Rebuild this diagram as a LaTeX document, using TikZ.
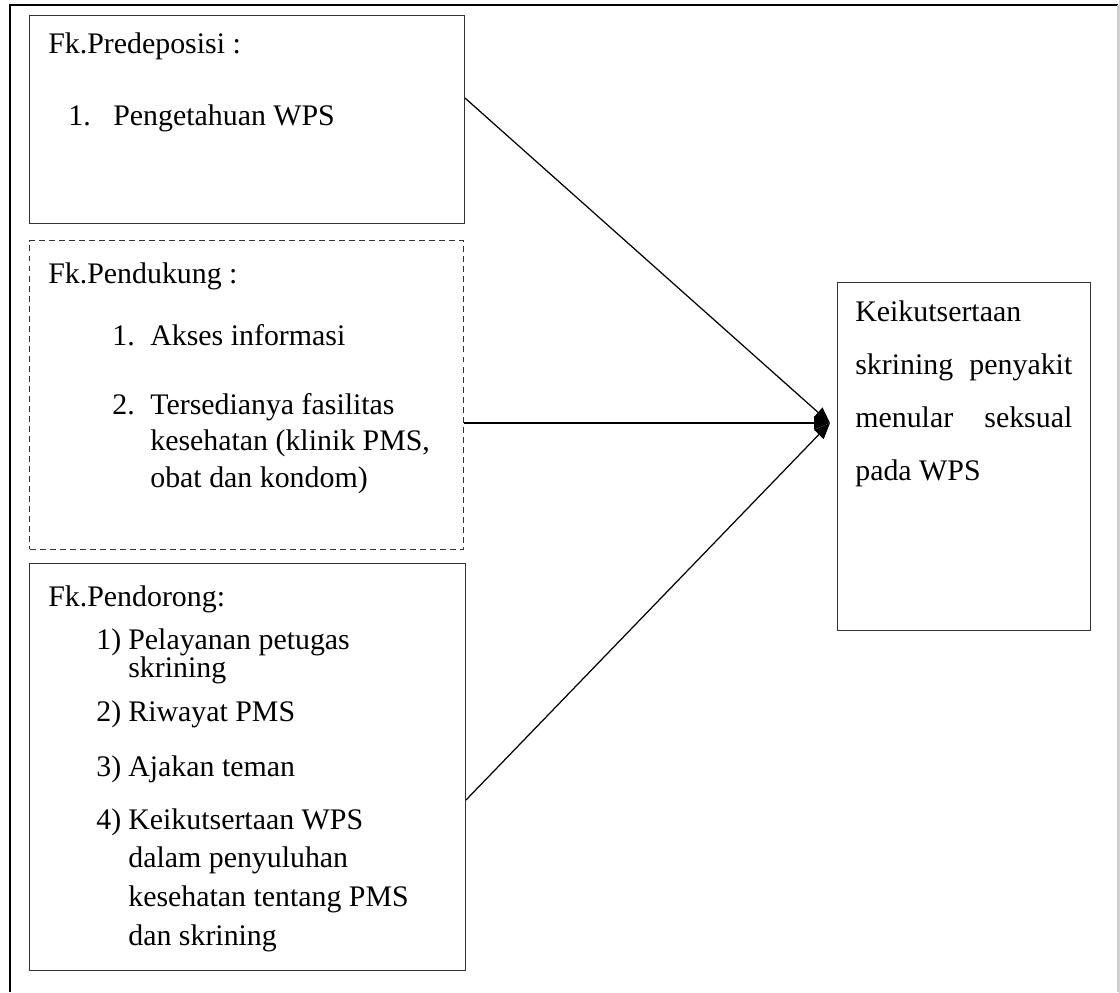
\documentclass[tikz,border=0pt]{standalone}
\usepackage{fontspec}
\setmainfont{Liberation Serif}
\usetikzlibrary{positioning, arrows.meta, calc}

\tikzset{
  box/.style={draw=black!80, line width=0.6pt, anchor=north west, inner sep=0pt},
  dbox/.style={box, dash pattern=on 3.4pt off 2.3pt},
  txt/.style={anchor=base west, inner sep=0pt, font=\fontsize{17pt}{20pt}\selectfont},
  link/.style={-{Triangle[length=3.2mm,width=2.6mm]}, line width=0.7pt},
}

\begin{document}
\begin{tikzpicture}[x=0.02cm, y=-0.02cm]
\useasboundingbox (0,0) rectangle (1119,992);
% outer frame
\draw[line width=1.2pt] (10,992) -- (10,5) -- (1118,5);
\draw[black!20, line width=0.6pt] (1118,5) -- (1118,992);

% factor boxes
\node[box, minimum width=8.70cm, minimum height=4.16cm] (pred) at (29,15) {};
\node[dbox, minimum width=8.68cm, minimum height=6.18cm] (pend) at (29,240) {};
\node[box, minimum width=8.72cm, minimum height=8.14cm] (dor) at (29,563) {};
\node[box, minimum width=5.06cm, minimum height=6.96cm] (ikut) at (837,282) {};

% predeposisi
\node[txt] (t1) at (48,53) {Fk.Predeposisi :};
\node[txt] (n11) at (68,125) {1.};
\node[txt] (t11) at (113,125) {Pengetahuan WPS};

% pendukung
\node[txt] (t2) at (48,283) {Fk.Pendukung :};
\node[txt] (n21) at (112,345) {1.};
\node[txt] (t21) at (150,345) {Akses informasi};
\node[txt] (n22) at (112,414) {2.};
\node[txt] (t22) at (150,414) {Tersedianya fasilitas};
\node[txt] (t22b) at (150,450) {kesehatan (klinik PMS,};
\node[txt] (t22c) at (150,487) {obat dan kondom)};

% pendorong
\node[txt] (t3) at (48,606) {Fk.Pendorong:};
\node[txt] (n31) at (96,649) {1)};
\node[txt] (t31) at (128,649) {Pelayanan petugas};
\node[txt] (t31b) at (128,677) {skrining};
\node[txt] (n32) at (96,721) {2)};
\node[txt] (t32) at (128,721) {Riwayat PMS};
\node[txt] (n33) at (96,776) {3)};
\node[txt] (t33) at (128,776) {Ajakan teman};
\node[txt] (n34) at (96,829) {4)};
\node[txt] (t34) at (128,829) {Keikutsertaan WPS};
\node[txt] (t34b) at (128,867) {dalam penyuluhan};
\node[txt] (t34c) at (128,906) {kesehatan tentang PMS};
\node[txt] (t34d) at (128,945) {dan skrining};

% keikutsertaan
\node[txt] (k1) at (855,321) {Keikutsertaan};
\node[txt] (k2) at (855,374) {\makebox[4.34cm][s]{skrining penyakit}};
\node[txt] (k3) at (855,427) {\makebox[4.34cm][s]{menular seksual}};
\node[txt] (k4) at (855,480) {pada WPS};

% arrows
\coordinate (hub) at (830,423);
\draw[link] ($(pred.north east)+(0,83)$) -- (hub);
\draw[link] ($(pend.north east)+(0,183)$) -- (hub);
\draw[link] ($(dor.north east)+(0,237)$) -- (hub);
\end{tikzpicture}
\end{document}
